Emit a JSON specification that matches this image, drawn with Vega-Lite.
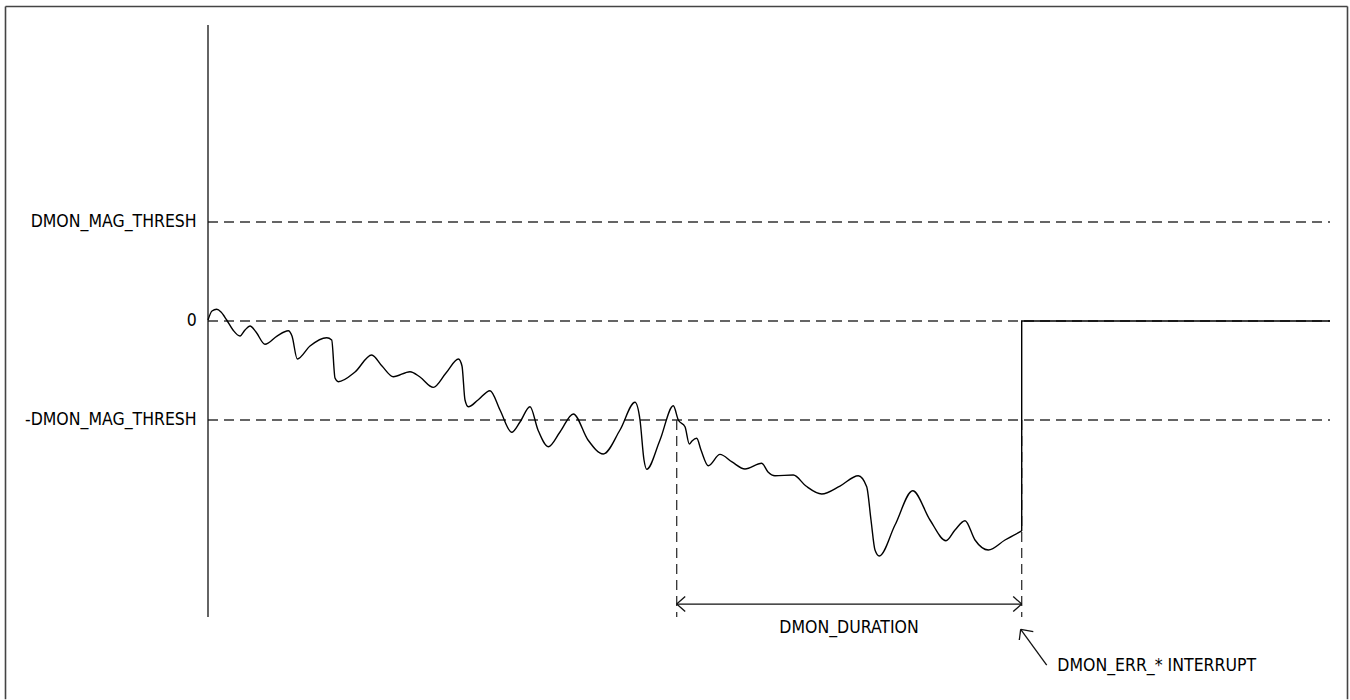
{
  "$schema": "https://vega.github.io/schema/vega-lite/v6.json",
  "width": 1350,
  "height": 700,
  "autosize": {"type": "fit", "contains": "padding"},
  "padding": 0,
  "background": "white",
  "config": {"view": {"stroke": null}},
  "datasets": {
    "signal": [
      {"t": 0, "v": 0.01},
      {"t": 0.4, "v": 0.101},
      {"t": 0.87, "v": 0.118},
      {"t": 1.3, "v": 0.091},
      {"t": 1.87, "v": 0.01},
      {"t": 2.5, "v": -0.091},
      {"t": 3.2, "v": -0.152},
      {"t": 3.7, "v": -0.091},
      {"t": 4.2, "v": -0.051},
      {"t": 4.8, "v": -0.111},
      {"t": 5.7, "v": -0.235},
      {"t": 6.9, "v": -0.152},
      {"t": 8.03, "v": -0.098},
      {"t": 8.4, "v": -0.152},
      {"t": 8.93, "v": -0.384},
      {"t": 10.2, "v": -0.253},
      {"t": 11.87, "v": -0.169},
      {"t": 12.37, "v": -0.192},
      {"t": 12.7, "v": -0.576},
      {"t": 13.03, "v": -0.613},
      {"t": 14.7, "v": -0.515},
      {"t": 16.37, "v": -0.343},
      {"t": 17.4, "v": -0.455},
      {"t": 18.53, "v": -0.563},
      {"t": 20.2, "v": -0.512},
      {"t": 21.2, "v": -0.566},
      {"t": 22.53, "v": -0.67},
      {"t": 23.8, "v": -0.525},
      {"t": 25.05, "v": -0.384},
      {"t": 25.4, "v": -0.455},
      {"t": 25.7, "v": -0.798},
      {"t": 26.03, "v": -0.866},
      {"t": 27.0, "v": -0.798},
      {"t": 28.2, "v": -0.704},
      {"t": 29.2, "v": -0.899},
      {"t": 30.37, "v": -1.124},
      {"t": 31.2, "v": -1.02},
      {"t": 32.2, "v": -0.866},
      {"t": 33.0, "v": -1.101},
      {"t": 34.03, "v": -1.27},
      {"t": 35.2, "v": -1.121},
      {"t": 36.53, "v": -0.939},
      {"t": 38.0, "v": -1.202},
      {"t": 39.53, "v": -1.343},
      {"t": 41.2, "v": -1.101},
      {"t": 42.7, "v": -0.821},
      {"t": 43.2, "v": -1.0},
      {"t": 43.6, "v": -1.404},
      {"t": 43.87, "v": -1.498},
      {"t": 45.2, "v": -1.202},
      {"t": 46.53, "v": -0.856},
      {"t": 47.03, "v": -1.0},
      {"t": 47.7, "v": -1.068},
      {"t": 48.13, "v": -1.242},
      {"t": 48.4, "v": -1.212},
      {"t": 48.87, "v": -1.185},
      {"t": 49.3, "v": -1.303},
      {"t": 50.03, "v": -1.462},
      {"t": 51.2, "v": -1.347},
      {"t": 52.4, "v": -1.424},
      {"t": 53.7, "v": -1.495},
      {"t": 55.37, "v": -1.437},
      {"t": 56.0, "v": -1.525},
      {"t": 56.7, "v": -1.563},
      {"t": 58.53, "v": -1.556},
      {"t": 59.8, "v": -1.667},
      {"t": 61.37, "v": -1.747},
      {"t": 63.2, "v": -1.667},
      {"t": 65.03, "v": -1.563},
      {"t": 65.87, "v": -1.674},
      {"t": 66.3, "v": -2.01},
      {"t": 66.7, "v": -2.313},
      {"t": 67.13, "v": -2.374},
      {"t": 68.7, "v": -2.061},
      {"t": 70.47, "v": -1.714},
      {"t": 72.2, "v": -2.01},
      {"t": 73.8, "v": -2.219},
      {"t": 74.7, "v": -2.111},
      {"t": 75.7, "v": -2.017},
      {"t": 76.7, "v": -2.212},
      {"t": 78.03, "v": -2.313},
      {"t": 79.7, "v": -2.212},
      {"t": 81.37, "v": -2.121}
    ],
    "step": [
      {"t": 81.37, "v": -2.121, "o": 0},
      {"t": 81.37, "v": 0, "o": 1},
      {"t": 112.2, "v": 0, "o": 2}
    ],
    "solid": [
      {"t": 0, "t2": 0, "v": 2.99, "v2": -2.99},
      {"t": 46.87, "t2": 81.37, "v": -2.859, "v2": -2.859},
      {"t": 46.87, "t2": 47.72, "v": -2.859, "v2": -2.783},
      {"t": 46.87, "t2": 47.72, "v": -2.859, "v2": -2.935},
      {"t": 81.37, "t2": 80.52, "v": -2.859, "v2": -2.783},
      {"t": 81.37, "t2": 80.52, "v": -2.859, "v2": -2.935},
      {"t": 83.87, "t2": 81.27, "v": -3.475, "v2": -3.114},
      {"t": 81.27, "t2": 82.53, "v": -3.114, "v2": -3.138},
      {"t": 81.27, "t2": 81.13, "v": -3.114, "v2": -3.222}
    ],
    "frame": [
      {"t": -20.25, "t2": 113.95, "v": 3.177, "v2": 3.177},
      {"t": -20.25, "t2": -20.25, "v": 3.177, "v2": -3.82},
      {"t": 113.95, "t2": 113.95, "v": 3.177, "v2": -3.82}
    ],
    "dashed": [
      {"t": 0, "t2": 112.2, "v": 1, "v2": 1},
      {"t": 0, "t2": 112.2, "v": 0, "v2": 0},
      {"t": 0, "t2": 112.2, "v": -1, "v2": -1},
      {"t": 46.87, "t2": 46.87, "v": -1, "v2": -2.99},
      {"t": 81.37, "t2": 81.37, "v": -1, "v2": -2.99}
    ],
    "labels": [
      {"t": -1.13, "v": 1, "text": "DMON_MAG_THRESH", "pos": "right"},
      {"t": -1.13, "v": 0, "text": "0", "pos": "right"},
      {"t": -1.13, "v": -1, "text": "-DMON_MAG_THRESH", "pos": "right"},
      {"t": 64.1, "v": -3.101, "text": "DMON_DURATION", "pos": "center"},
      {"t": 84.93, "v": -3.48, "text": "DMON_ERR_* INTERRUPT", "pos": "left"}
    ]
  },
  "encoding": {
    "x": {"field": "t", "type": "quantitative", "scale": {"domain": [-20.8, 114.2], "nice": false, "zero": false}, "axis": null},
    "y": {"field": "v", "type": "quantitative", "scale": {"domain": [-3.8283, 3.2424], "nice": false, "zero": false}, "axis": null}
  },
  "layer": [
    {
      "data": {"name": "frame"},
      "mark": {"type": "rule", "stroke": "#444444", "strokeWidth": 1.6},
      "encoding": {"x2": {"field": "t2"}, "y2": {"field": "v2"}}
    },
    {
      "data": {"name": "dashed"},
      "mark": {"type": "rule", "stroke": "#333333", "strokeWidth": 1.3, "strokeDash": [10, 6]},
      "encoding": {"x2": {"field": "t2"}, "y2": {"field": "v2"}}
    },
    {
      "data": {"name": "solid"},
      "mark": {"type": "rule", "stroke": "#111111", "strokeWidth": 1.3},
      "encoding": {"x2": {"field": "t2"}, "y2": {"field": "v2"}}
    },
    {
      "data": {"name": "signal"},
      "mark": {"type": "line", "interpolate": "monotone", "stroke": "#000000", "strokeWidth": 1.4},
      "encoding": {}
    },
    {
      "data": {"name": "step"},
      "mark": {"type": "line", "interpolate": "linear", "stroke": "#000000", "strokeWidth": 1.4},
      "encoding": {"order": {"field": "o", "type": "quantitative"}}
    },
    {
      "data": {"name": "labels"},
      "transform": [{"filter": "datum.pos === 'right'"}],
      "mark": {"type": "text", "align": "right", "baseline": "middle", "font": "DejaVu Sans Condensed, Liberation Sans", "fontSize": 17.5, "color": "#000000"},
      "encoding": {"text": {"field": "text"}}
    },
    {
      "data": {"name": "labels"},
      "transform": [{"filter": "datum.pos === 'center'"}],
      "mark": {"type": "text", "align": "center", "baseline": "middle", "font": "DejaVu Sans Condensed, Liberation Sans", "fontSize": 17.5, "color": "#000000"},
      "encoding": {"text": {"field": "text"}}
    },
    {
      "data": {"name": "labels"},
      "transform": [{"filter": "datum.pos === 'left'"}],
      "mark": {"type": "text", "align": "left", "baseline": "middle", "font": "DejaVu Sans Condensed, Liberation Sans", "fontSize": 17.5, "color": "#000000"},
      "encoding": {"text": {"field": "text"}}
    }
  ]
}
